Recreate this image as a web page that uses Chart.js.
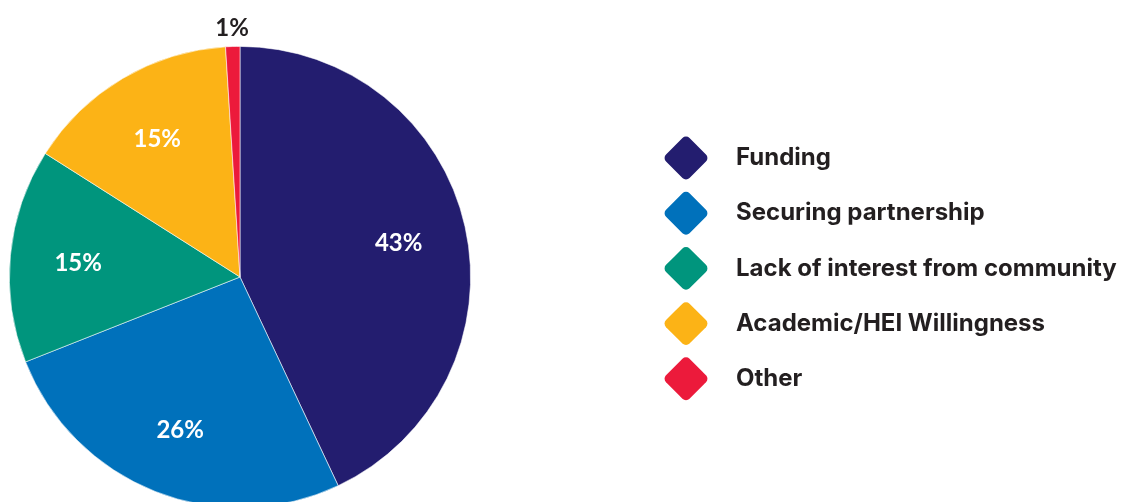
<!DOCTYPE html>
<html>
<head>
<meta charset="utf-8">
<script src="https://cdn.jsdelivr.net/npm/chart.js@4/dist/chart.umd.min.js"></script>
<style>
  html, body { margin: 0; padding: 0; background: #ffffff; overflow: hidden; }
  #wrap { position: absolute; left: 0; top: 0; width: 1129px; height: 520px; }
</style>
</head>
<body>
<div id="wrap"><canvas id="chart"></canvas></div>
<script>
// Challenges reported, share of responses (%)
const categories = ['Funding', 'Securing partnership', 'Lack of interest from community', 'Academic/HEI Willingness', 'Other'];
const shares = [43, 26, 15, 15, 1];
const sliceColors = ['#231d6f', '#0071bb', '#00957d', '#fcb316', '#ec1a3b'];
const valueLabels = ['43%', '26%', '15%', '15%', '1%'];

const TEXT_DARK = '#231f20';

// Percent labels: white inside the slice, dark just outside for very thin slices
const sliceLabels = {
  id: 'sliceLabels',
  afterDatasetsDraw(chart) {
    const ctx = chart.ctx;
    const arcs = chart.getDatasetMeta(0).data;
    ctx.save();
    ctx.font = 'bold 24px Lato, "Open Sans", sans-serif';
    ctx.textAlign = 'center';
    ctx.textBaseline = 'middle';
    arcs.forEach((arc, i) => {
      const p = arc.getProps(['x', 'y', 'startAngle', 'endAngle', 'outerRadius']);
      const mid = (p.startAngle + p.endAngle) / 2;
      const small = shares[i] < 3;
      const r = small ? p.outerRadius + 20 : p.outerRadius * 0.705;
      ctx.fillStyle = small ? TEXT_DARK : '#ffffff';
      ctx.fillText(valueLabels[i], p.x + Math.cos(mid) * r, p.y + Math.sin(mid) * r + 2);
    });
    ctx.restore();
  }
};

// Legend with rounded diamond markers to the right of the pie
function roundedDiamond(ctx, cx, cy, half, rad) {
  const pts = [[cx, cy - half], [cx + half, cy], [cx, cy + half], [cx - half, cy]];
  ctx.beginPath();
  ctx.moveTo((pts[3][0] + pts[0][0]) / 2, (pts[3][1] + pts[0][1]) / 2);
  for (let k = 0; k < 4; k++) {
    const a = pts[k], b = pts[(k + 1) % 4];
    ctx.arcTo(a[0], a[1], b[0], b[1], rad);
  }
  ctx.closePath();
}

const diamondLegend = {
  id: 'diamondLegend',
  afterDraw(chart) {
    const ctx = chart.ctx;
    const x0 = 686, y0 = 158, step = 55.2;
    ctx.save();
    ctx.font = 'bold 24px Inter, "Open Sans", sans-serif';
    ctx.textBaseline = 'middle';
    ctx.textAlign = 'left';
    categories.forEach((name, i) => {
      const cy = y0 + i * step;
      ctx.fillStyle = sliceColors[i];
      roundedDiamond(ctx, x0, cy, 23.5, 5);
      ctx.fill();
      ctx.fillStyle = TEXT_DARK;
      ctx.fillText(name, 736, cy);
    });
    ctx.restore();
  }
};

new Chart(document.getElementById('chart'), {
  type: 'pie',
  data: {
    labels: categories,
    datasets: [{
      data: shares,
      backgroundColor: sliceColors,
      borderColor: 'rgba(255,255,255,0.7)',
      borderWidth: 0.8
    }]
  },
  options: {
    responsive: true,
    maintainAspectRatio: false,
    animation: false,
    layout: { padding: { left: 9, right: 658, top: 46, bottom: 12 } },
    plugins: {
      legend: { display: false },
      tooltip: { enabled: false }
    }
  },
  plugins: [sliceLabels, diamondLegend]
});
</script>
</body>
</html>
